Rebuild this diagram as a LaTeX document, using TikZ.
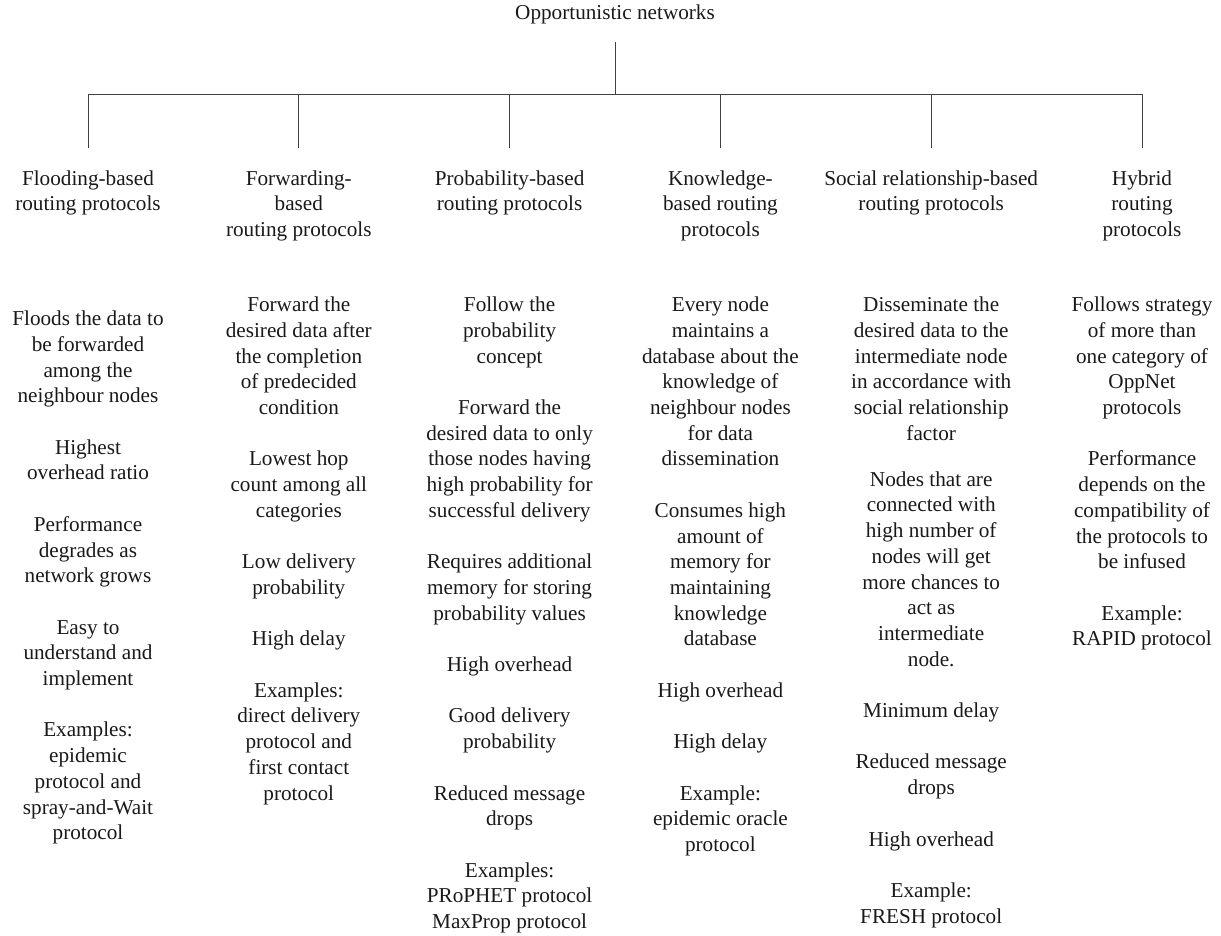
\documentclass[tikz,border=0pt]{standalone}
\usepackage{fontspec}
\setmainfont{Liberation Serif}
\usepackage{tikz}
\usetikzlibrary{calc}
\newcommand{\itemgap}{\\[\baselineskip]}

\begin{document}
\begin{tikzpicture}[
  txt/.style={font=\fontsize{10.6}{12.85}\selectfont, text=black!90, align=center, inner sep=0pt, anchor=north},
  cat/.style={txt, outer ysep=11.25pt},
  link/.style={draw=black!75, line width=0.5pt}]
\newdimen\colw
\newdimen\xone
\newdimen\ybus
\newdimen\yhead
\newdimen\ybody
\colw=105.4pt
\xone=44pt
\ybus=-47.5pt
\yhead=-74pt
\ybody=-148.3pt

\useasboundingbox (0,0) rectangle (610.5pt,-468pt);

\node[txt, anchor=base, outer ysep=8.7pt] (Opp) at (307.5pt,-10pt) {Opportunistic networks};
\coordinate (Bus) at (307.5pt,\ybus);

% categories
\node[cat] (Flood) at (\xone,\yhead) {Flooding-based\\routing protocols};
\node[cat] (Fwd) at (\xone+\colw,\yhead) {Forwarding-\\based\\routing protocols};
\node[cat] (Prob) at (\xone+2\colw,\yhead) {Probability-based\\routing protocols};
\node[cat] (Know) at (\xone+3\colw,\yhead) {Knowledge-\\based routing\\protocols};
\node[cat] (Soc) at (\xone+4\colw,\yhead) {Social relationship-based\\routing protocols};
\node[cat] (Hyb) at (\xone+5\colw,\yhead) {Hybrid\\routing\\protocols};

\draw[link] (Opp.south) -- (Bus);
\draw[link] (Flood.north) |- (Hyb.north |- Bus) -- (Hyb.north);
\foreach \n in {Fwd,Prob,Know,Soc}
  \draw[link] (\n.north) -- (\n.north |- Bus);

% properties of each category
\node[txt] (FloodTxt) at (\xone,\ybody-7pt) {Floods the data to\\be forwarded\\among the\\neighbour nodes\itemgap
  Highest\\overhead ratio\itemgap
  Performance\\degrades as\\network grows\itemgap
  Easy to\\understand and\\implement\itemgap
  Examples:\\epidemic\\protocol and\\spray-and-Wait\\protocol};
\node[txt] (FwdTxt) at (\xone+\colw,\ybody) {Forward the\\desired data after\\the completion\\of predecided\\condition\itemgap
  Lowest hop\\count among all\\categories\itemgap
  Low delivery\\probability\itemgap
  High delay\itemgap
  Examples:\\direct delivery\\protocol and\\first contact\\protocol};
\node[txt] (ProbTxt) at (\xone+2\colw,\ybody) {Follow the\\probability\\concept\itemgap
  Forward the\\desired data to only\\those nodes having\\high probability for\\successful delivery\itemgap
  Requires additional\\memory for storing\\probability values\itemgap
  High overhead\itemgap
  Good delivery\\probability\itemgap
  Reduced message\\drops\itemgap
  Examples:\\PRoPHET protocol\\MaxProp protocol};
\node[txt] (KnowTxt) at (\xone+3\colw,\ybody) {Every node\\maintains a\\database about the\\knowledge of\\neighbour nodes\\for data\\dissemination\itemgap
  Consumes high\\amount of\\memory for\\maintaining\\knowledge\\database\itemgap
  High overhead\itemgap
  High delay\itemgap
  Example:\\epidemic oracle\\protocol};
\node[txt] (SocTxt) at (\xone+4\colw,\ybody) {Disseminate the\\desired data to the\\intermediate node\\in accordance with\\social relationship\\factor\\[0.79\baselineskip]
  Nodes that are\\connected with\\high number of\\nodes will get\\more chances to\\act as\\intermediate\\node.\itemgap
  Minimum delay\itemgap
  Reduced message\\drops\itemgap
  High overhead\itemgap
  Example:\\FRESH protocol};
\node[txt] (HybTxt) at (\xone+5\colw,\ybody) {Follows strategy\\of more than\\one category of\\OppNet\\protocols\itemgap
  Performance\\depends on the\\compatibility of\\the protocols to\\be infused\itemgap
  Example:\\RAPID protocol};
\end{tikzpicture}
\end{document}
